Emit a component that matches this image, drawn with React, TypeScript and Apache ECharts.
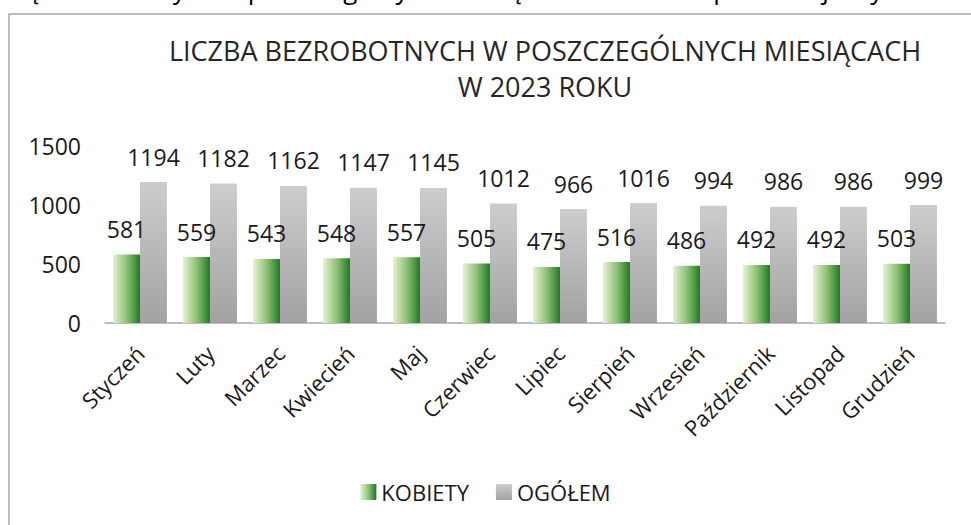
import React, { useEffect, useRef } from "react";
import * as echarts from "echarts";

const months = ["Styczeń", "Luty", "Marzec", "Kwiecień", "Maj", "Czerwiec", "Lipiec", "Sierpień", "Wrzesień", "Październik", "Listopad", "Grudzień"];
const kobiety = [581, 559, 543, 548, 557, 505, 475, 516, 486, 492, 492, 503];
const ogolem = [1194, 1182, 1162, 1147, 1145, 1012, 966, 1016, 994, 986, 986, 999];
const seriesNames = ["KOBIETY", "OGÓŁEM"];
const titleLines = ["LICZBA BEZROBOTNYCH W POSZCZEGÓLNYCH MIESIĄCACH", "W 2023 ROKU"];
const cutLine = "Liczbę bezrobotnych w poszczególnych miesiącach 2023 roku prezentuje wykres";

const FONT = "Open Sans";

export default function App() {
  const ref = useRef<HTMLDivElement>(null);
  useEffect(() => {
    if (!ref.current) return;
    const chart = echarts.init(ref.current, null, { renderer: "svg" });
    const green = new echarts.graphic.LinearGradient(0, 0, 1, 0, [
      { offset: 0, color: "#e6f1d2" },
      { offset: 0.5, color: "#8fc276" },
      { offset: 1, color: "#1f7a22" },
    ]);
    const gray = new echarts.graphic.LinearGradient(0, 0, 0, 1, [
      { offset: 0, color: "#cdcdcd" },
      { offset: 1, color: "#a2a2a2" },
    ]);
    const label = {
      show: true,
      position: "top" as const,
      distance: 14,
      fontFamily: FONT,
      fontSize: 23,
      color: "#1a1a1a",
    };
    chart.setOption({
      animation: false,
      backgroundColor: "#ffffff",
      graphic: [
        {
          type: "rect",
          shape: { x: 9, y: 14, width: 1100, height: 700 },
          style: { fill: "none", stroke: "#a6a6a6", lineWidth: 1.5 },
          z: 0,
        },
        {
          type: "text",
          x: -35,
          y: 2,
          style: {
            text: cutLine,
            font: `26px "${FONT}"`,
            fill: "#000",
            textAlign: "left",
            textVerticalAlign: "bottom",
          },
        },
        {
          type: "text",
          x: 545,
          y: 68,
          style: {
            text: titleLines.join("\n"),
            font: `27px "${FONT}"`,
            lineHeight: 36,
            fill: "#262626",
            textAlign: "center",
            textVerticalAlign: "middle",
          },
        },
      ],
      legend: {
        data: seriesNames,
        bottom: 17,
        left: "center",
        icon: "rect",
        itemWidth: 16,
        itemHeight: 16,
        itemGap: 27,
        textStyle: { fontFamily: FONT, fontSize: 22, color: "#1a1a1a" },
      },
      grid: { left: 105, right: 26, top: 146, bottom: 202 },
      xAxis: {
        type: "category",
        data: months,
        axisLine: { lineStyle: { color: "#a6a6a6", width: 1.5 } },
        axisTick: { show: false },
        axisLabel: {
          rotate: 45,
          interval: 0,
          margin: 26,
          fontFamily: FONT,
          fontSize: 22,
          color: "#1a1a1a",
        },
      },
      yAxis: {
        type: "value",
        min: 0,
        max: 1500,
        interval: 500,
        splitLine: { show: false },
        axisLine: { show: false },
        axisTick: { show: false },
        axisLabel: {
          margin: 24,
          fontFamily: FONT,
          fontSize: 23,
          color: "#1a1a1a",
          formatter: (v: number) => String(v),
        },
      },
      series: [
        {
          name: seriesNames[0],
          type: "bar",
          data: kobiety,
          barGap: "0%",
          barCategoryGap: "23%",
          itemStyle: { color: green },
          label,
        },
        {
          name: seriesNames[1],
          type: "bar",
          data: ogolem,
          itemStyle: { color: gray },
          label,
        },
      ],
    });
    return () => chart.dispose();
  }, []);
  return (
    <div
      ref={ref}
      style={{ position: "fixed", left: 0, top: 0, width: 971, height: 525 }}
    />
  );
}
